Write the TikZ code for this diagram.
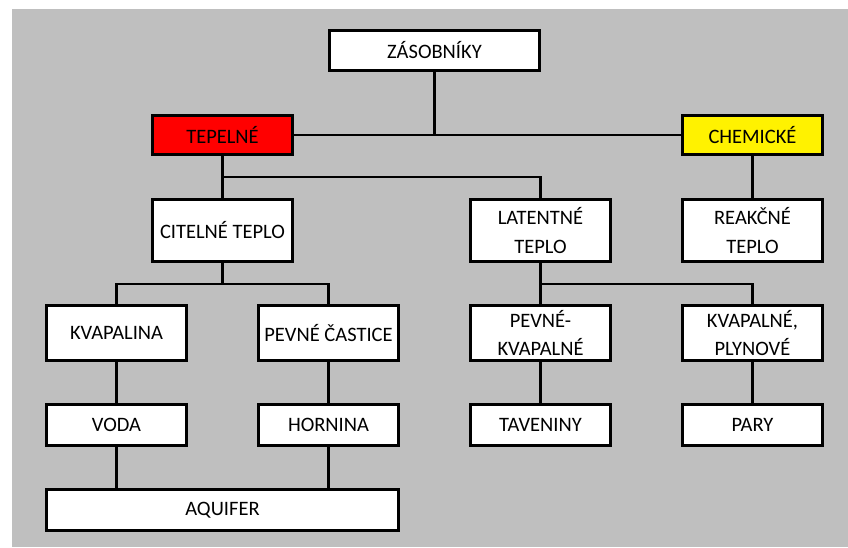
\documentclass[tikz,border=0pt]{standalone}
\usepackage{fontspec}
\setmainfont{Carlito}
\definecolor{bggray}{HTML}{BFBFBF}
\tikzset{
  box/.style={draw=black, line width=2.8pt, fill=white, minimum width=140pt, inner sep=0pt, align=center, font=\fontsize{20.5}{28.7}\selectfont},
  conn/.style={draw=black, line width=2.6pt}
}
\begin{document}
\begin{tikzpicture}[x=1pt,y=-1pt]
\useasboundingbox (0,0) rectangle (848,547);
\fill[bggray] (12,9) rectangle (848,547);
% nodes
\node[box, minimum width=210pt, minimum height=40pt] (zas) at (434.5,50.5) {ZÁSOBNÍKY};
\node[box, fill=red, minimum height=39pt] (tep) at (222.5,135) {TEPELNÉ};
\node[box, fill=yellow, minimum height=39pt] (chem) at (752.5,135) {CHEMICKÉ};
\node[box, minimum height=62pt] (cit) at (222.5,230.5) {CITELNÉ TEPLO};
\node[box, minimum height=62pt] (lat) at (540.5,230.5) {LATENTNÉ\\TEPLO};
\node[box, minimum height=62pt] (reak) at (752.5,230.5) {REAKČNÉ\\TEPLO};
\node[box, minimum height=55pt] (kvap) at (116.5,333) {KVAPALINA};
\node[box, minimum height=55pt] (pev) at (328.5,333) {PEVNÉ ČASTICE};
\node[box, minimum height=55pt] (pk) at (540.5,333) {PEVNÉ-\\KVAPALNÉ};
\node[box, minimum height=55pt] (kp) at (752.5,333) {KVAPALNÉ,\\PLYNOVÉ};
\node[box, minimum height=41pt] (voda) at (116.5,425) {VODA};
\node[box, minimum height=41pt] (horn) at (328.5,425) {HORNINA};
\node[box, minimum height=41pt] (tav) at (540.5,425) {TAVENINY};
\node[box, minimum height=41pt] (pary) at (752.5,425) {PARY};
\node[box, minimum width=352pt, minimum height=41pt] (aq) at (222.5,510) {AQUIFER};
% junctions
\coordinate (j1) at (222.5,177);
\coordinate (j2) at (222.5,284);
\coordinate (j3) at (540.5,284);
% connectors
\draw[conn] (tep.east) -- (chem.west);
\draw[conn] (zas.south) -- (zas.south |- tep.east);
\draw[conn] (tep.south) -- (cit.north);
\draw[conn] (j1) -| (lat.north);
\draw[conn] (chem.south) -- (reak.north);
\draw[conn] (cit.south) -- (j2);
\draw[conn] (kvap.north) |- (j2) -| (pev.north);
\draw[conn] (lat.south) -- (pk.north);
\draw[conn] (j3) -| (kp.north);
\draw[conn] (kvap.south) -- (voda.north);
\draw[conn] (pev.south) -- (horn.north);
\draw[conn] (pk.south) -- (tav.north);
\draw[conn] (kp.south) -- (pary.north);
\draw[conn] (voda.south) -- (voda.south |- aq.north);
\draw[conn] (horn.south) -- (horn.south |- aq.north);
\end{tikzpicture}
\end{document}
